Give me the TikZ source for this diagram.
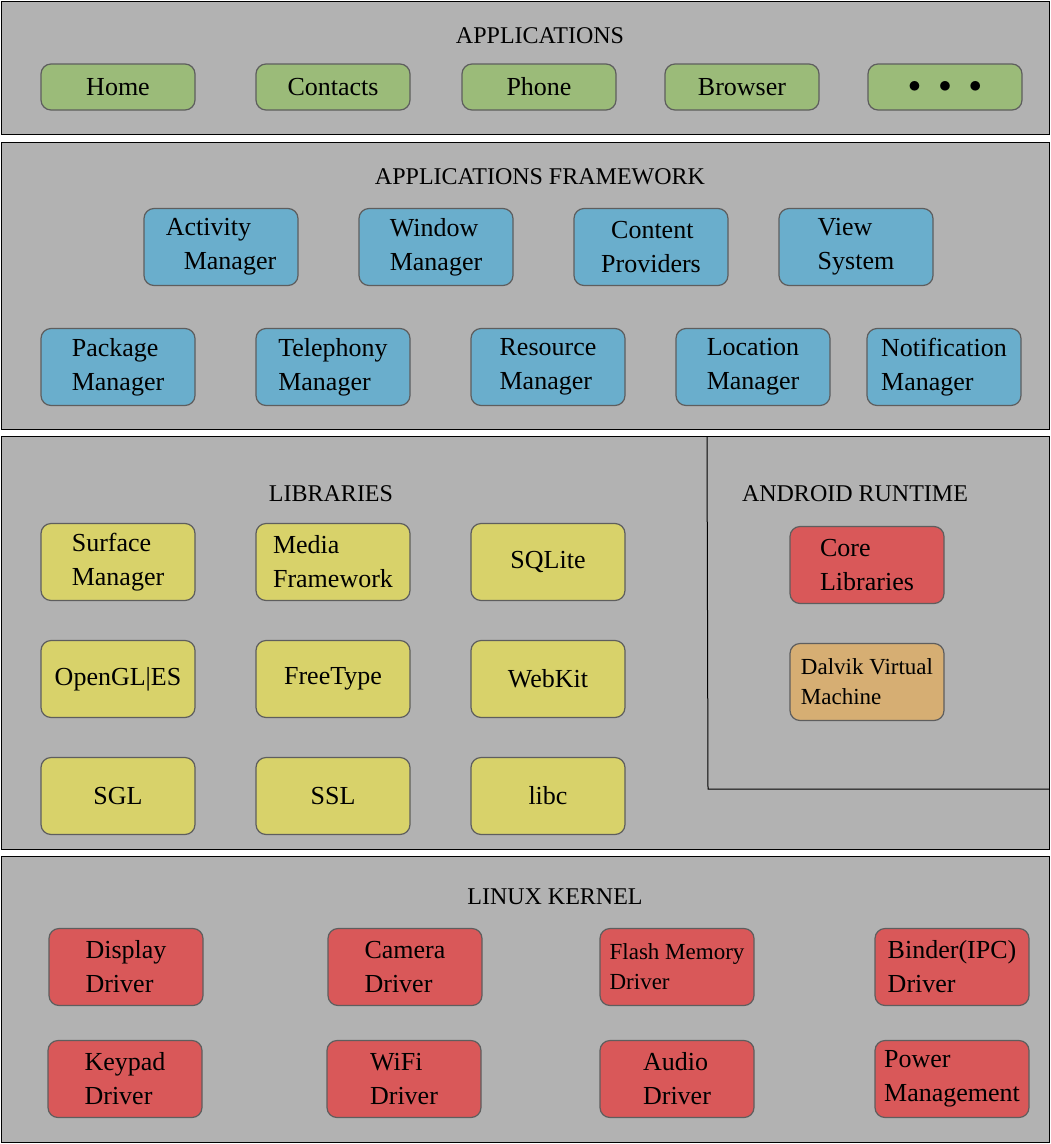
\documentclass[tikz,border=0pt]{standalone}
\usepackage{fontspec}
\setmainfont{Liberation Serif}
\tikzset{
  layer/.style={draw=black,fill=panelgray,line width=1pt},
  ttl/.style={font=\fontsize{24}{28}\selectfont},
  blk/.style={draw=edgegray,line width=1.2pt,rounded corners=10pt,minimum width=154pt,minimum height=77pt,
    inner sep=2pt,align=left,font=\fontsize{26}{34}\selectfont},
  app/.style={blk,fill=appgreen,minimum height=46pt},
  fw/.style={blk,fill=fwblue},
  lib/.style={blk,fill=libyellow},
  core/.style={blk,fill=corered},
  vm/.style={blk,fill=vmtan,font=\fontsize{23}{30}\selectfont},
  drv/.style={blk,fill=corered},
}
\definecolor{panelgray}{HTML}{B2B2B2}
\definecolor{edgegray}{HTML}{5E5E5E}
\definecolor{appgreen}{HTML}{9BBB79}
\definecolor{fwblue}{HTML}{6AAECC}
\definecolor{libyellow}{HTML}{D8D26A}
\definecolor{corered}{HTML}{D95859}
\definecolor{vmtan}{HTML}{D6AE73}
\begin{document}
\begin{tikzpicture}[x=1pt,y=-1pt]
\useasboundingbox (0,0) rectangle (1051,1144);
% layers
\filldraw[layer] (1,1) rectangle (1049,134);
\filldraw[layer] (1,142) rectangle (1049,429);
\filldraw[layer] (1,436) rectangle (1049,849);
\draw[line width=1pt] (707,436) -- (708,789) -- (1049,789);
\filldraw[layer] (1,856) rectangle (1049,1142);

% applications
\node[ttl] (tapp) at (540,36) {APPLICATIONS};
\node[app] (home) at (118,87) {Home};
\node[app] (contacts) at (333,87) {Contacts};
\node[app] (phone) at (539,87) {Phone};
\node[app] (browser) at (742,87) {Browser};
\node[app] (more) at (945,87) {$\bullet$\hspace{18pt}$\bullet$\hspace{18pt}$\bullet$};

% framework
\node[ttl] (tfw) at (540,177) {APPLICATIONS FRAMEWORK};
\node[fw] (activity) at (221,247) {Activity\\\hspace{18pt}Manager};
\node[fw] (window) at (436,247) {Window\\Manager};
\node[fw] (content) at (651,247) {\hspace{10pt}Content\\Providers};
\node[fw] (view) at (856,247) {View\\System};
\node[fw] (package) at (118,367) {Package\\Manager};
\node[fw] (telephony) at (333,367) {Telephony\\Manager};
\node[fw] (resource) at (548,367) {Resource\\Manager};
\node[fw] (location) at (753,367) {Location\\Manager};
\node[fw] (notification) at (944,367) {Notification\\Manager};

% libraries
\node[ttl] (tlib) at (331,494) {LIBRARIES};
\node[lib] (surface) at (118,562) {Surface\\Manager};
\node[lib] (media) at (333,562) {Media\\Framework};
\node[lib] (sqlite) at (548,562) {SQLite};
\node[lib] (opengl) at (118,679) {OpenGL|ES};
\node[lib] (freetype) at (333,679) {FreeType};
\node[lib] (webkit) at (548,679) {WebKit};
\node[lib] (sgl) at (118,796) {SGL};
\node[lib] (ssl) at (333,796) {SSL};
\node[lib] (libc) at (548,796) {libc};

% android runtime
\node[ttl] (trt) at (855,494) {ANDROID RUNTIME};
\node[core] (corelib) at (867,565) {Core\\Libraries};
\node[vm] (dalvik) at (867,682) {Dalvik Virtual\\Machine};

% linux kernel
\node[ttl] (tker) at (555,897) {LINUX KERNEL};
\node[drv] (display) at (126,967) {Display\\Driver};
\node[drv] (camera) at (405,967) {Camera\\Driver};
\node[drv,font=\fontsize{23}{30}\selectfont] (flash) at (677,967) {Flash Memory\\Driver};
\node[drv] (binder) at (952,967) {Binder(IPC)\\Driver};
\node[drv] (keypad) at (125,1079) {Keypad\\Driver};
\node[drv] (wifi) at (404,1079) {WiFi\\Driver};
\node[drv] (audio) at (677,1079) {Audio\\Driver};
\node[drv] (power) at (952,1079) {Power\\Management};
\end{tikzpicture}
\end{document}
